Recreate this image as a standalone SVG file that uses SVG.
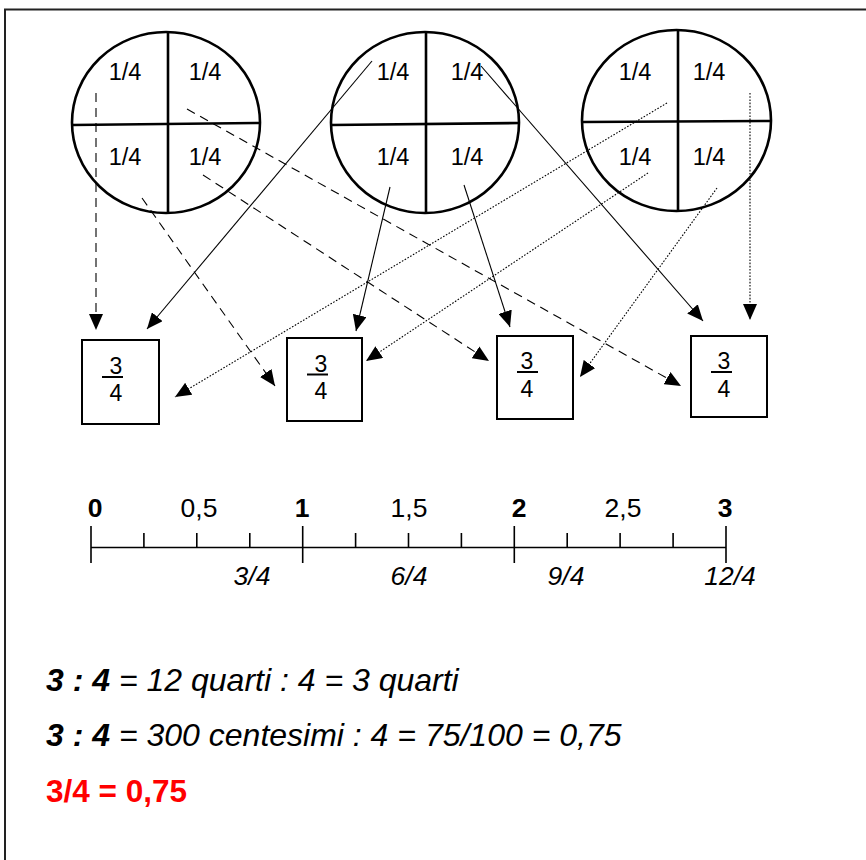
<svg xmlns="http://www.w3.org/2000/svg" width="866" height="860" viewBox="0 0 866 860">
<defs>
<marker id="ah" markerUnits="userSpaceOnUse" markerWidth="16" markerHeight="14" refX="16" refY="7" orient="auto">
<path d="M0,0 L16,7 L0,14 z" fill="#000"/>
</marker>
<style>
.pie{fill:none;stroke:#000;stroke-width:2.6}
.box{fill:#fff;stroke:#000;stroke-width:2}
.q{font-family:"Liberation Sans",Arial,sans-serif;font-size:23.5px;text-anchor:middle;fill:#000}
.fr{font-family:"Liberation Sans",Arial,sans-serif;font-size:23px;text-anchor:middle;fill:#000}
.c{fill:none;stroke:#000;stroke-width:1.1;marker-end:url(#ah)}
.dash{stroke-dasharray:9,6}
.dot{stroke-dasharray:1.6,1.6}
.nl{stroke:#000;stroke-width:1.6;fill:none}
.top{font-family:"Liberation Sans",Arial,sans-serif;font-size:26.5px;text-anchor:middle;fill:#000}
.b{font-weight:bold}
.bot{font-family:"Liberation Sans",Arial,sans-serif;font-size:26.5px;font-style:italic;text-anchor:middle;fill:#000}
.eq{font-family:"Liberation Sans",Arial,sans-serif;font-size:32px;font-style:italic;fill:#000}
.red{font-family:"Liberation Sans",Arial,sans-serif;font-size:31.5px;font-weight:bold;fill:#ff0000}
</style>
</defs>
<rect x="5" y="9.5" width="900" height="900" fill="#fff" stroke="#222" stroke-width="2"/>

<g id="circle1">
<ellipse class="pie" cx="166" cy="122.5" rx="94" ry="90.5"/>
<line class="pie" x1="168" y1="32" x2="168" y2="213"/>
<line class="pie" x1="72" y1="125" x2="260" y2="123"/>
<text class="q" x="125" y="80">1/4</text>
<text class="q" x="205" y="80">1/4</text>
<text class="q" x="125" y="165">1/4</text>
<text class="q" x="205" y="165">1/4</text>
</g>
<g id="circle2">
<ellipse class="pie" cx="425" cy="122.5" rx="94" ry="90.5"/>
<line class="pie" x1="426" y1="32" x2="426" y2="213"/>
<line class="pie" x1="331" y1="125" x2="519" y2="123"/>
<text class="q" x="393" y="80">1/4</text>
<text class="q" x="467" y="80">1/4</text>
<text class="q" x="393" y="165">1/4</text>
<text class="q" x="467" y="165">1/4</text>
</g>
<g id="circle3">
<ellipse class="pie" cx="676.5" cy="120.5" rx="94.5" ry="90.5"/>
<line class="pie" x1="678" y1="30" x2="678" y2="211"/>
<line class="pie" x1="582" y1="122" x2="771" y2="121"/>
<text class="q" x="635" y="80">1/4</text>
<text class="q" x="709" y="80">1/4</text>
<text class="q" x="635" y="165">1/4</text>
<text class="q" x="709" y="165">1/4</text>
</g>

<g id="box1">
<rect class="box" x="82" y="340" width="77" height="84"/>
<text class="fr" x="116" y="374">3</text>
<line x1="102" y1="377" x2="123" y2="377" stroke="#000" stroke-width="2"/>
<text class="fr" x="116" y="401">4</text>
</g>
<g id="box2">
<rect class="box" x="287" y="338" width="75" height="83"/>
<text class="fr" x="321" y="372">3</text>
<line x1="307" y1="374.5" x2="328" y2="374.5" stroke="#000" stroke-width="2"/>
<text class="fr" x="321" y="399">4</text>
</g>
<g id="box3">
<rect class="box" x="497" y="336" width="76" height="83"/>
<text class="fr" x="527" y="369">3</text>
<line x1="517" y1="372" x2="538" y2="372" stroke="#000" stroke-width="2"/>
<text class="fr" x="527" y="397">4</text>
</g>
<g id="box4">
<rect class="box" x="691" y="336" width="76" height="81"/>
<text class="fr" x="724" y="369">3</text>
<line x1="711" y1="372" x2="732" y2="372" stroke="#000" stroke-width="2"/>
<text class="fr" x="724" y="397">4</text>
</g>

<g id="connectors">
<line class="c dash" x1="96" y1="93" x2="96" y2="330"/>
<line class="c dash" x1="187" y1="109" x2="681" y2="386"/>
<line class="c dash" x1="203" y1="175" x2="489" y2="361"/>
<line class="c dash" x1="142" y1="198" x2="275" y2="386"/>
<line class="c" x1="372" y1="61" x2="147" y2="329"/>
<line class="c" x1="481" y1="66" x2="703" y2="321"/>
<line class="c" x1="390" y1="187" x2="356" y2="331"/>
<line class="c" x1="464" y1="185" x2="510" y2="327"/>
<line class="c dot" x1="667" y1="103" x2="175" y2="397"/>
<line class="c dot" x1="648" y1="173" x2="366" y2="361"/>
<line class="c dot" x1="717" y1="188" x2="580" y2="377"/>
<line class="c dot" x1="750" y1="93" x2="750" y2="320"/>
</g>

<g id="numberline">
<line class="nl" x1="91" y1="547.5" x2="726" y2="547.5"/>
<path class="nl" d="M91,526V563M302.7,526V563M514.3,526V563M726,526V563M143.9,533V547.5M196.8,533V547.5M249.8,533V547.5M355.6,533V547.5M408.5,533V547.5M461.4,533V547.5M567.2,533V547.5M620.1,533V547.5M673.1,533V547.5"/>
<text class="top b" x="95" y="517">0</text>
<text class="top" x="199" y="517">0,5</text>
<text class="top b" x="302" y="517">1</text>
<text class="top" x="409" y="517">1,5</text>
<text class="top b" x="519" y="517">2</text>
<text class="top" x="623" y="517">2,5</text>
<text class="top b" x="725" y="517">3</text>
<text class="bot" x="252" y="585">3/4</text>
<text class="bot" x="409" y="585">6/4</text>
<text class="bot" x="566" y="585">9/4</text>
<text class="bot" x="730" y="585">12/4</text>
</g>

<g id="equations">
<text class="eq" x="46" y="691"><tspan font-weight="bold">3 : 4</tspan> = 12 quarti : 4 = 3 quarti</text>
<text class="eq" x="46" y="746"><tspan font-weight="bold">3 : 4</tspan> = 300 centesimi : 4 = 75/100 = 0,75</text>
<text class="red" x="46" y="802">3/4 = 0,75</text>
</g>
</svg>
